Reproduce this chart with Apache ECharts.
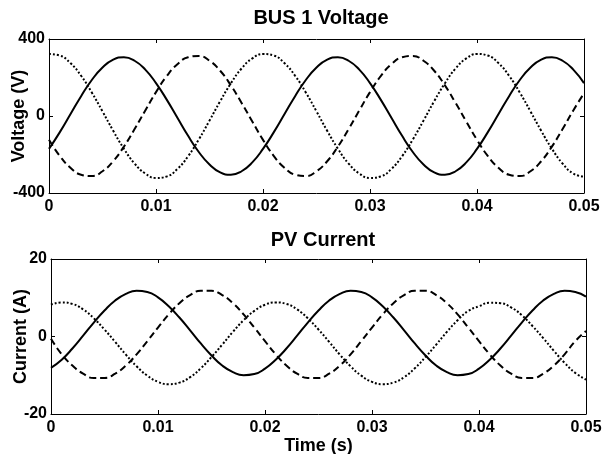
<!DOCTYPE html>
<html>
<head>
<meta charset="utf-8">
<script src="https://cdn.jsdelivr.net/npm/echarts@6/dist/echarts.min.js"></script>
<style>
html,body{margin:0;padding:0;background:#fff}
#chart{width:602px;height:454px}
</style>
</head>
<body>
<div id="chart"></div>
<script>
// Sample instants (s)
const time = [
  0,0.001,0.002,0.003,0.004,0.005,0.006,0.007,0.008,0.009,
  0.010,0.011,0.012,0.013,0.014,0.015,0.016,0.017,0.018,0.019,
  0.020,0.021,0.022,0.023,0.024,0.025,0.026,0.027,0.028,0.029,
  0.030,0.031,0.032,0.033,0.034,0.035,0.036,0.037,0.038,0.039,
  0.040,0.041,0.042,0.043,0.044,0.045,0.046,0.047,0.048,0.049,0.050
];

// Bus 1 phase voltages (V)
const busVa = [
  -171,-85,9,103,187,252,293,305,287,241,171,85,-9,-103,-187,-252,-293,-305,-287,-241,
  -171,-85,9,103,187,252,293,305,287,241,171,85,-9,-103,-187,-252,-293,-305,-287,-241,
  -171,-85,9,103,187,252,293,305,287,241,171
];
const busVb = [
  -124,-207,-269,-305,-312,-287,-235,-159,-68,29,124,207,269,305,312,287,235,159,68,-29,
  -124,-207,-269,-305,-312,-287,-235,-159,-68,29,124,207,269,305,312,287,235,159,68,-29,
  -124,-207,-269,-305,-312,-287,-235,-159,-68,29,118
];
const busVc = [
  322,314,275,209,122,24,-77,-170,-247,-299,-322,-314,-275,-209,-122,-24,77,170,247,299,
  322,314,275,209,122,24,-77,-170,-247,-299,-322,-314,-275,-209,-122,-24,77,170,247,299,
  322,314,275,209,122,24,-77,-170,-247,-299,-315
];

// PV phase currents (A)
const pvIa = [
  -8.1,-6.0,-3.1,0.2,3.6,6.7,9.3,11.0,11.8,11.5,10.1,7.8,4.9,1.6,-1.8,-4.9,-7.5,-9.2,-10.0,-9.7,
  -8.3,-6.0,-3.1,0.2,3.6,6.7,9.3,11.0,11.8,11.5,10.1,7.8,4.9,1.6,-1.8,-4.9,-7.5,-9.2,-10.0,-9.7,
  -8.3,-6.0,-3.1,0.2,3.6,6.7,9.3,11.0,11.8,11.5,10.3
];
const pvIb = [
  -0.6,-4.6,-7.5,-9.6,-10.7,-10.7,-9.6,-7.5,-4.6,-1.2,2.3,5.7,8.6,10.7,11.8,11.8,10.7,8.6,5.7,2.3,
  -1.2,-4.6,-7.5,-9.6,-10.7,-10.7,-9.6,-7.5,-4.6,-1.2,2.3,5.7,8.6,10.7,11.8,11.8,10.7,8.6,5.7,2.3,
  -1.2,-4.6,-7.5,-9.6,-10.7,-10.7,-9.6,-7.5,-4.6,-1.2,1.4
];
const pvIc = [
  8.2,8.8,8.4,7.0,4.7,1.8,-1.4,-4.7,-7.7,-10.1,-11.7,-12.3,-11.9,-10.5,-8.2,-5.3,-2.1,1.2,4.2,6.6,
  8.2,8.8,8.4,7.0,4.7,1.8,-1.4,-4.7,-7.7,-10.1,-11.7,-12.3,-11.9,-10.5,-8.2,-5.3,-2.1,1.2,4.2,6.6,
  7.8,8.7,8.6,7.5,5.5,2.7,-0.4,-3.7,-6.8,-9.4,-11.1
];

const FONT = '"Liberation Sans", Arial, Helvetica, sans-serif';
const black = '#000';

function pairs(vals) { return time.map((t, i) => [t, vals[i]]); }

const lineSolid  = { color: black, width: 2, type: 'solid' };
const lineDashed = { color: black, width: 2, type: [7, 4] };
const lineDotted = { color: black, width: 2, type: [2, 2] };

function timeAxis(grid, withLabels, name) {
  return {
    type: 'value', gridIndex: grid, position: withLabels ? 'bottom' : 'top',
    min: 0, max: 0.05, interval: 0.01,
    axisLine: { show: true, onZero: false, lineStyle: { color: black, width: 1 } },
    axisTick: { show: true, inside: true, length: 4, lineStyle: { color: black } },
    axisLabel: {
      show: withLabels, margin: 6, color: black,
      fontFamily: FONT, fontWeight: 'bold', fontSize: 16,
      formatter: v => (v === 0 ? '0' : v.toFixed(2))
    },
    splitLine: { show: false },
    name: name || '', nameLocation: 'middle', nameGap: 23, nameMoveOverlap: false,
    nameTextStyle: { color: black, fontFamily: FONT, fontWeight: 'bold', fontSize: 18 }
  };
}

function valueAxis(grid, lim, withLabels, name) {
  return {
    type: 'value', gridIndex: grid, position: withLabels ? 'left' : 'right',
    min: -lim, max: lim, interval: lim,
    axisLine: { show: true, onZero: false, lineStyle: { color: black, width: 1 } },
    axisTick: { show: true, inside: true, length: 4, lineStyle: { color: black } },
    axisLabel: {
      show: withLabels, margin: 4, color: black,
      fontFamily: FONT, fontWeight: 'bold', fontSize: 16
    },
    splitLine: { show: false },
    name: name || '', nameLocation: 'middle', nameGap: 21, nameRotate: 90, nameMoveOverlap: false,
    nameTextStyle: { color: black, fontFamily: FONT, fontWeight: 'bold', fontSize: 18 }
  };
}

function curve(xi, yi, vals, style) {
  return {
    type: 'line', xAxisIndex: xi, yAxisIndex: yi,
    data: pairs(vals), smooth: 0.5, symbol: 'none',
    lineStyle: style, silent: true
  };
}

const chart = echarts.init(document.getElementById('chart'));
chart.setOption({
  animation: false,
  backgroundColor: '#fff',
  title: [
    { text: 'BUS 1 Voltage', left: 316, top: 3, textAlign: 'center',
      textStyle: { color: black, fontFamily: FONT, fontWeight: 'bold', fontSize: 20 } },
    { text: 'PV Current', left: 318, top: 225, textAlign: 'center',
      textStyle: { color: black, fontFamily: FONT, fontWeight: 'bold', fontSize: 20 } }
  ],
  grid: [
    { left: 49, top: 39, width: 535, height: 154, containLabel: false, outerBoundsMode: 'none' },
    { left: 51, top: 259, width: 535, height: 155, containLabel: false, outerBoundsMode: 'none' }
  ],
  xAxis: [
    timeAxis(0, true),
    timeAxis(0, false),
    timeAxis(1, true, 'Time (s)'),
    timeAxis(1, false)
  ],
  yAxis: [
    valueAxis(0, 400, true, 'Voltage (V)'),
    valueAxis(0, 400, false),
    valueAxis(1, 20, true, 'Current (A)'),
    valueAxis(1, 20, false)
  ],
  series: [
    curve(0, 0, busVa, lineSolid),
    curve(0, 0, busVb, lineDashed),
    curve(0, 0, busVc, lineDotted),
    curve(2, 2, pvIa, lineSolid),
    curve(2, 2, pvIb, lineDashed),
    curve(2, 2, pvIc, lineDotted)
  ]
});
</script>
</body>
</html>
